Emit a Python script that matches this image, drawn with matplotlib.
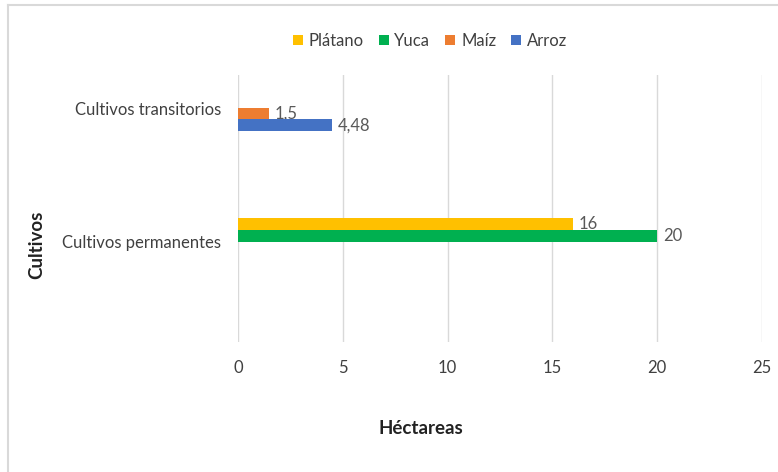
import matplotlib.pyplot as plt
from matplotlib.patches import Patch
from matplotlib.lines import Line2D

categories = ["Cultivos transitorios", "Cultivos permanentes"]
series = ["Plátano", "Yuca", "Maíz", "Arroz"]
colors = ["#FFC000", "#00B050", "#ED7D31", "#4472C4"]

# values per category (None = no bar)
platano = [None, 16]
yuca = [None, 20]
maiz = [1.5, None]
arroz = [4.48, None]
values = [platano, yuca, maiz, arroz]

x_ticks = [0, 5, 10, 15, 20, 25]

plt.rcParams["font.family"] = ["Lato", "DejaVu Sans"]

fig = plt.figure(figsize=(7.78, 4.72), dpi=100)
ax = fig.add_axes([238 / 778, 1 - 342 / 472, (762 - 238) / 778, (342 - 75) / 472])

bar_h = 0.106
group_pos = [0, 1]
label_shift = [-0.095, 0.1]

for gi, g in enumerate(group_pos):
    present = [si for si in range(len(series)) if values[si][gi] is not None]
    n = len(present)
    for k, si in enumerate(present):
        y = g + (k - (n - 1) / 2) * bar_h
        v = values[si][gi]
        ax.barh(y, v, height=bar_h, color=colors[si], zorder=3)
        txt = f"{v:g}".replace(".", ",")
        ax.annotate(txt, (v, y), xytext=(4, 0), textcoords="offset points",
                    va="center", ha="left", fontsize=12, color="#595959")

ax.set_xlim(0, 25)
ax.set_ylim(2.01, -0.40)
ax.set_xticks(x_ticks)
ax.set_xticklabels([str(t) for t in x_ticks], fontsize=12, color="#404040")
ax.set_yticks([g + s for g, s in zip(group_pos, label_shift)])
ax.set_yticklabels(categories, fontsize=12, color="#404040")
ax.tick_params(axis="both", length=0)
ax.tick_params(axis="x", pad=13)
ax.tick_params(axis="y", pad=12)
ax.grid(True, axis="x", color="#D9D9D9", linewidth=1, zorder=0)
for s in ax.spines.values():
    s.set_visible(False)

handles = [Patch(facecolor=c, label=s) for s, c in zip(series, colors)]
fig.legend(handles=handles, loc="center", bbox_to_anchor=(430 / 778, 1 - 41 / 472),
           ncol=4, frameon=False, fontsize=12, handlelength=0.6, handleheight=0.6,
           handletextpad=0.35, columnspacing=0.9, labelcolor="#404040")

fig.text(421 / 778, 1 - 428 / 472, "Héctareas", ha="center", va="center",
         fontsize=13.5, fontweight="bold", color="#222222")
fig.text(37 / 778, 1 - 245 / 472, "Cultivos", ha="center", va="center",
         rotation=90, fontsize=13.5, fontweight="bold", color="#222222")

# chart border (top and left visible)
fig.add_artist(Line2D([8 / 778, 1], [1 - 5 / 472, 1 - 5 / 472], color="#D9D9D9", lw=1.5))
fig.add_artist(Line2D([8 / 778, 8 / 778], [0, 1 - 5 / 472], color="#D9D9D9", lw=1.5))

plt.savefig("out.png", dpi=100)
plt.close(fig)
